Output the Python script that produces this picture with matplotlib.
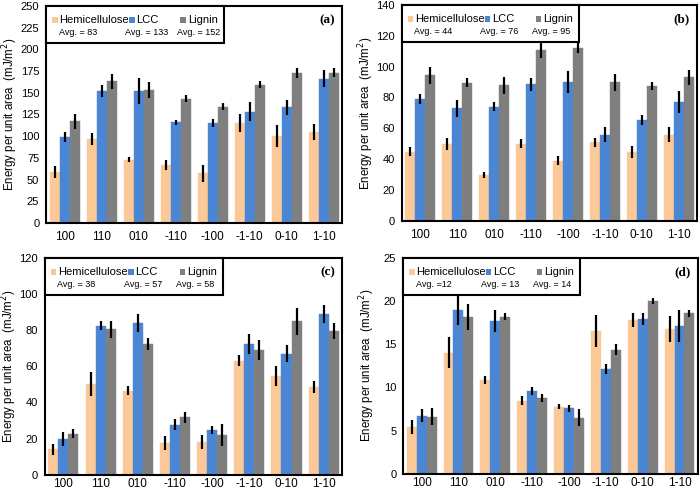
import numpy as np
import matplotlib
matplotlib.use("Agg")
import matplotlib.pyplot as plt
from matplotlib.patches import Rectangle

plt.rcParams['font.family'] = ['Liberation Sans', 'DejaVu Sans']

# Data
cats = ['100', '110', '010', '-110', '-100', '-1-10', '0-10', '1-10']
series = ['Hemicellulose', 'LCC', 'Lignin']
colors = ['#FAC997', '#4A86D4', '#7F7F7F']

a_hemi = [59, 97, 73, 67, 57, 115, 100, 105]
a_hemi_err = [7, 7, 3, 6, 10, 10, 13, 9]
a_lcc = [99, 152, 152, 116, 115, 128, 133, 166]
a_lcc_err = [6, 7, 15, 3, 5, 11, 9, 10]
a_lig = [117, 163, 153, 143, 134, 159, 173, 173]
a_lig_err = [9, 9, 9, 4, 4, 4, 6, 5]
a_avg = ['Avg. = 83', 'Avg. = 133', 'Avg. = 152']

b_hemi = [45, 50, 30, 50, 39, 51, 44.5, 56]
b_hemi_err = [3, 4, 2, 3, 3, 3, 4, 5]
b_lcc = [79, 73, 74, 88.5, 90, 56, 65.5, 77]
b_lcc_err = [3, 5.5, 3, 4, 7, 5, 3, 7]
b_lig = [94.5, 89.5, 88, 111, 112, 90, 87.5, 93]
b_lig_err = [5.5, 3, 5.5, 5.5, 3, 5.5, 2.5, 5]
b_avg = ['Avg. = 44', 'Avg. = 76', 'Avg. = 95']

c_hemi = [14.2, 50.2, 46.6, 17.7, 18, 63, 54.8, 48.6]
c_hemi_err = [3, 6.5, 2.5, 4, 4, 3, 5.5, 3.5]
c_lcc = [19.7, 82.3, 83.7, 27.8, 24.7, 72.1, 67, 88.9]
c_lcc_err = [4, 2.5, 5, 3, 2.2, 5.5, 4.5, 5]
c_lig = [22.6, 80.4, 72.3, 31.8, 22, 68.8, 84.8, 79.5]
c_lig_err = [2.5, 4.5, 3.5, 3, 6, 5.5, 7.5, 4.5]
c_avg = ['Avg. = 38', 'Avg. = 57', 'Avg. = 58']

d_hemi = [5.45, 14.0, 10.9, 8.45, 7.75, 16.5, 17.8, 16.8]
d_hemi_err = [0.8, 1.8, 0.45, 0.5, 0.3, 1.85, 0.85, 1.5]
d_lcc = [6.7, 19.0, 17.7, 9.55, 7.6, 12.15, 17.9, 17.1]
d_lcc_err = [0.75, 1.75, 1.25, 0.45, 0.4, 0.55, 0.7, 1.9]
d_lig = [6.6, 18.2, 18.2, 8.8, 6.5, 14.35, 20.0, 18.6]
d_lig_err = [1, 1.5, 0.4, 0.45, 1, 0.65, 0.35, 0.4]
d_avg = ['Avg. =12', 'Avg. = 13', 'Avg. = 14']

# label, values, errors, averages, ymax, ystep, axes rect, x tick pad
panels = [
    ('(a)', [a_hemi, a_lcc, a_lig], [a_hemi_err, a_lcc_err, a_lig_err], a_avg, 250, 25,
     [0.066, 0.546, 0.423, 0.442], 6),
    ('(b)', [b_hemi, b_lcc, b_lig], [b_hemi_err, b_lcc_err, b_lig_err], b_avg, 140, 20,
     [0.574, 0.550, 0.422, 0.440], 6),
    ('(c)', [c_hemi, c_lcc, c_lig], [c_hemi_err, c_lcc_err, c_lig_err], c_avg, 120, 20,
     [0.064, 0.033, 0.425, 0.442], 2),
    ('(d)', [d_hemi, d_lcc, d_lig], [d_hemi_err, d_lcc_err, d_lig_err], d_avg, 25, 5,
     [0.576, 0.035, 0.421, 0.440], 2),
]

fig = plt.figure(figsize=(7, 4.91), dpi=100)
x = np.arange(len(cats))
w = 0.27

for label, vals, errs, avgs, ymax, step, pos, xpad in panels:
    ax = fig.add_axes(pos)
    for i in range(3):
        ax.bar(x + (i - 1) * w, vals[i], w, color=colors[i], edgecolor=colors[i],
               linewidth=0.3, zorder=2)
        ax.errorbar(x + (i - 1) * w, vals[i], yerr=errs[i], fmt='none',
                    ecolor='black', elinewidth=1.6, capsize=0, zorder=3)
    ax.set_xlim(-0.5, len(cats) - 0.5)
    ax.set_ylim(0, ymax)
    ax.set_yticks(np.arange(0, ymax + step / 2, step))
    ax.set_xticks(x)
    ax.set_xticklabels(cats, fontsize=8.5)
    ax.tick_params(axis='y', labelsize=8, length=0, pad=5)
    ax.tick_params(axis='x', length=0, pad=xpad)
    for s in ax.spines.values():
        s.set_linewidth(1.5)
        s.set_color('black')
    ax.set_ylabel('Energy per unit area  (mJ/m$^2$)', fontsize=8.3)
    ax.yaxis.set_label_coords(-0.088, 0.5)

    # legend box
    ax.add_patch(Rectangle((0, 0.83), 0.6, 0.17, transform=ax.transAxes,
                           facecolor='white', edgecolor='black', linewidth=1.5,
                           zorder=5, clip_on=False))
    sq_x = [0.02, 0.28, 0.453]
    tx_x = [0.045, 0.305, 0.478]
    av_x = [0.042, 0.265, 0.441]
    for i in range(3):
        ax.add_patch(Rectangle((sq_x[i], 0.922), 0.019, 0.027, transform=ax.transAxes,
                               facecolor=colors[i], edgecolor='none', zorder=6))
        ax.text(tx_x[i], 0.935, series[i], fontsize=8, transform=ax.transAxes,
                va='center', ha='left', zorder=6)
        ax.text(av_x[i], 0.877, avgs[i], fontsize=6.5, transform=ax.transAxes,
                va='center', ha='left', zorder=6)
    ax.text(0.975, 0.935, label, fontsize=9.5, fontweight='bold',
            family='Liberation Serif', transform=ax.transAxes,
            va='center', ha='right', zorder=6)

plt.savefig('out.png', dpi=100)
